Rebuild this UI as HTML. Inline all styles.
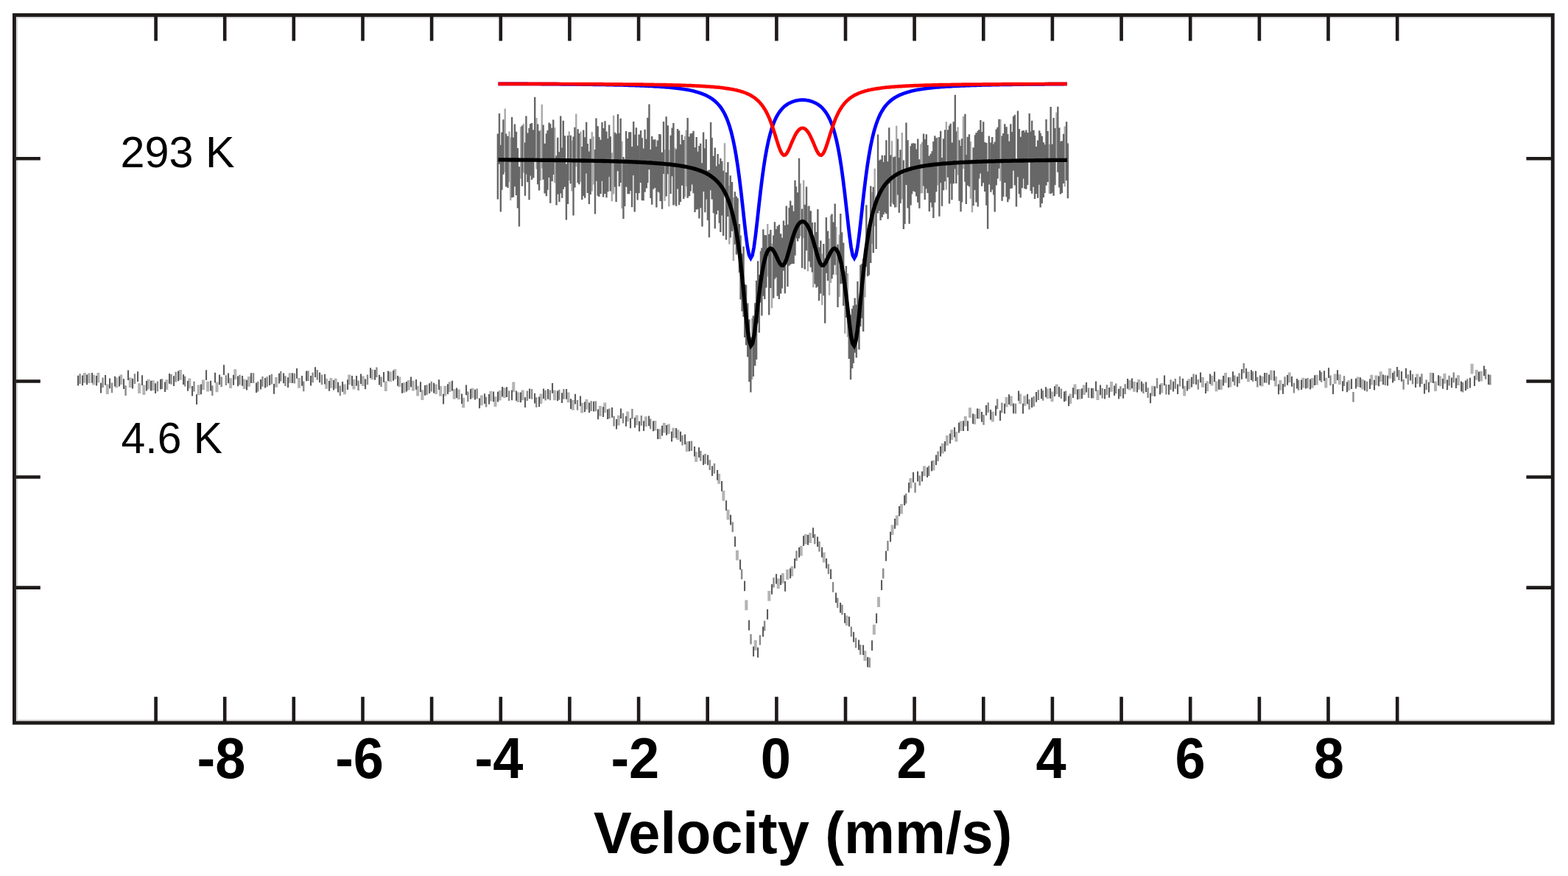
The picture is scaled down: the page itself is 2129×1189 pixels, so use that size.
<!DOCTYPE html>
<html><head><meta charset="utf-8"><title>Mossbauer spectra</title>
<style>html,body{margin:0;padding:0;background:#fff;overflow:hidden}svg{display:block}</style>
</head><body><svg width="2129" height="1189" viewBox="0 0 2129 1189"><rect x="0" y="0" width="2129" height="1189" fill="#ffffff"/><path d="M684.52 147.4h2.4V233.4h-2.4zM690.30 178.4h2.4V246.9h-2.4zM692.04 186.5h2.4V272.1h-2.4zM705.93 172.2h2.4V242.4h-2.4zM709.59 167.9h2.4V234.4h-2.4zM727.23 159.9h2.4V229.5h-2.4zM732.79 176.6h2.4V244.9h-2.4zM734.58 141.7h2.4V228.4h-2.4zM752.05 172.9h2.4V248.2h-2.4zM771.51 178.3h2.4V244.9h-2.4zM775.21 190.8h2.4V259.6h-2.4zM781.08 154.6h2.4V226.3h-2.4zM787.40 178.4h2.4V247.0h-2.4zM802.57 178.9h2.4V259.6h-2.4zM804.33 185.3h2.4V250.4h-2.4zM829.60 207.2h2.4V273.2h-2.4zM831.98 156.7h2.4V263.4h-2.4zM843.29 191.7h2.4V283.1h-2.4zM901.34 203.1h2.4V272.7h-2.4zM907.09 203.4h2.4V280.3h-2.4zM915.28 200.4h2.4V277.8h-2.4zM928.76 184.7h2.4V267.2h-2.4zM930.56 176.6h2.4V253.0h-2.4zM982.77 194.3h2.4V265.8h-2.4zM989.06 252.1h2.4V331.5h-2.4zM994.66 268.1h2.4V354.1h-2.4zM1020.03 432.1h2.4V515.1h-2.4zM1041.08 304.0h2.4V375.4h-2.4zM1046.77 330.6h2.4V418.2h-2.4zM1085.62 249.1h2.4V320.4h-2.4zM1089.91 244.5h2.4V323.2h-2.4zM1095.73 280.2h2.4V368.3h-2.4zM1103.13 325.6h2.4V389.9h-2.4zM1115.03 344.4h2.4V413.9h-2.4zM1124.87 323.8h2.4V400.8h-2.4zM1126.82 292.6h2.4V383.9h-2.4zM1134.17 307.9h2.4V373.2h-2.4zM1138.49 318.4h2.4V403.0h-2.4zM1146.08 368.3h2.4V452.8h-2.4zM1149.79 371.0h2.4V457.5h-2.4zM1173.29 337.3h2.4V403.5h-2.4zM1182.62 260.9h2.4V331.1h-2.4zM1186.50 228.7h2.4V307.0h-2.4zM1209.76 191.2h2.4V275.6h-2.4zM1216.01 170.8h2.4V281.3h-2.4zM1223.59 179.9h2.4V270.6h-2.4zM1249.06 195.5h2.4V262.6h-2.4zM1250.94 192.7h2.4V262.2h-2.4zM1271.79 186.4h2.4V251.5h-2.4zM1283.64 165.3h2.4V257.5h-2.4zM1299.36 172.4h2.4V237.6h-2.4zM1306.75 158.1h2.4V229.0h-2.4zM1316.66 192.1h2.4V269.8h-2.4zM1318.78 216.5h2.4V288.2h-2.4zM1357.15 162.0h2.4V245.7h-2.4zM1423.61 195.7h2.4V262.7h-2.4zM1433.29 152.6h2.4V218.9h-2.4zM1444.52 171.5h2.4V253.2h-2.4z" fill="#a9a9a9"/><path d="M674.68 181.6h2.4V270.6h-2.4zM676.78 154.1h2.4V222.7h-2.4zM678.65 196.7h2.4V287.6h-2.4zM680.25 179.5h2.4V257.8h-2.4zM682.24 162.3h2.4V236.8h-2.4zM685.94 181.6h2.4V253.5h-2.4zM688.37 184.8h2.4V254.9h-2.4zM693.88 158.9h2.4V268.2h-2.4zM695.81 186.6h2.4V267.6h-2.4zM697.73 168.6h2.4V253.3h-2.4zM699.79 178.7h2.4V264.9h-2.4zM701.76 201.0h2.4V282.6h-2.4zM703.73 226.3h2.4V307.5h-2.4zM707.75 170.6h2.4V252.8h-2.4zM711.75 193.5h2.4V265.7h-2.4zM713.23 157.6h2.4V236.6h-2.4zM715.13 180.6h2.4V247.3h-2.4zM717.34 173.8h2.4V271.3h-2.4zM718.94 168.0h2.4V238.6h-2.4zM720.88 167.0h2.4V244.0h-2.4zM723.11 176.2h2.4V241.6h-2.4zM725.02 131.7h2.4V214.5h-2.4zM728.99 168.5h2.4V250.2h-2.4zM730.86 177.8h2.4V258.6h-2.4zM736.38 169.6h2.4V243.8h-2.4zM738.43 194.7h2.4V262.5h-2.4zM740.67 181.3h2.4V266.2h-2.4zM742.32 177.1h2.4V257.8h-2.4zM744.36 166.6h2.4V241.1h-2.4zM746.08 168.2h2.4V275.8h-2.4zM748.51 173.7h2.4V245.9h-2.4zM750.05 162.4h2.4V237.0h-2.4zM754.36 211.2h2.4V278.5h-2.4zM756.08 186.7h2.4V263.8h-2.4zM758.22 206.2h2.4V274.0h-2.4zM760.04 157.4h2.4V262.5h-2.4zM762.04 200.5h2.4V268.8h-2.4zM763.59 163.7h2.4V256.7h-2.4zM765.80 184.2h2.4V253.7h-2.4zM767.72 222.4h2.4V298.5h-2.4zM769.88 184.0h2.4V276.9h-2.4zM773.59 183.8h2.4V249.2h-2.4zM777.34 185.4h2.4V292.5h-2.4zM779.25 172.8h2.4V254.4h-2.4zM783.42 175.3h2.4V248.0h-2.4zM785.10 181.1h2.4V250.2h-2.4zM789.11 198.9h2.4V271.0h-2.4zM791.05 176.4h2.4V265.9h-2.4zM793.01 186.2h2.4V268.8h-2.4zM794.98 165.7h2.4V235.5h-2.4zM796.60 195.0h2.4V261.9h-2.4zM798.71 205.6h2.4V277.1h-2.4zM800.53 188.6h2.4V264.0h-2.4zM806.79 202.9h2.4V290.5h-2.4zM808.28 160.6h2.4V245.7h-2.4zM810.49 171.3h2.4V265.8h-2.4zM812.21 186.1h2.4V267.0h-2.4zM814.49 189.8h2.4V262.9h-2.4zM816.31 166.1h2.4V245.8h-2.4zM817.93 174.1h2.4V267.4h-2.4zM820.30 164.3h2.4V263.0h-2.4zM822.30 178.4h2.4V268.2h-2.4zM824.21 188.0h2.4V260.2h-2.4zM825.95 169.5h2.4V240.0h-2.4zM827.64 185.3h2.4V259.6h-2.4zM833.70 179.8h2.4V253.7h-2.4zM835.42 181.5h2.4V273.9h-2.4zM837.78 155.0h2.4V232.2h-2.4zM839.57 180.8h2.4V253.1h-2.4zM841.47 160.7h2.4V247.9h-2.4zM845.25 213.0h2.4V297.1h-2.4zM847.09 215.8h2.4V280.1h-2.4zM848.91 177.9h2.4V253.7h-2.4zM851.35 188.0h2.4V263.3h-2.4zM853.05 179.3h2.4V263.2h-2.4zM855.03 179.3h2.4V259.1h-2.4zM856.84 198.9h2.4V281.3h-2.4zM859.04 165.0h2.4V238.0h-2.4zM860.54 182.8h2.4V287.6h-2.4zM862.69 173.3h2.4V262.0h-2.4zM864.42 197.7h2.4V271.4h-2.4zM866.42 182.6h2.4V262.3h-2.4zM868.87 177.1h2.4V247.9h-2.4zM870.62 187.2h2.4V271.9h-2.4zM872.42 201.4h2.4V272.2h-2.4zM874.42 175.7h2.4V260.7h-2.4zM876.57 188.7h2.4V255.4h-2.4zM878.19 159.7h2.4V248.3h-2.4zM880.28 141.4h2.4V230.3h-2.4zM882.27 203.0h2.4V269.0h-2.4zM884.02 184.9h2.4V277.7h-2.4zM886.06 189.4h2.4V256.7h-2.4zM888.14 189.2h2.4V255.0h-2.4zM890.17 199.0h2.4V281.5h-2.4zM891.65 190.5h2.4V260.3h-2.4zM894.06 181.9h2.4V261.5h-2.4zM895.45 182.6h2.4V272.9h-2.4zM897.83 206.7h2.4V283.7h-2.4zM899.81 165.1h2.4V236.1h-2.4zM903.45 158.3h2.4V266.5h-2.4zM905.63 170.2h2.4V236.3h-2.4zM909.40 183.7h2.4V263.0h-2.4zM911.44 173.4h2.4V239.2h-2.4zM913.21 167.0h2.4V278.6h-2.4zM916.92 202.5h2.4V279.7h-2.4zM918.84 175.1h2.4V256.6h-2.4zM920.88 177.3h2.4V278.2h-2.4zM922.71 196.1h2.4V274.0h-2.4zM924.75 183.0h2.4V251.7h-2.4zM927.05 189.9h2.4V270.0h-2.4zM932.46 159.9h2.4V268.8h-2.4zM934.81 185.6h2.4V266.2h-2.4zM936.45 181.3h2.4V259.4h-2.4zM938.71 180.8h2.4V250.4h-2.4zM940.37 177.8h2.4V262.3h-2.4zM942.31 200.1h2.4V287.9h-2.4zM944.48 186.0h2.4V284.5h-2.4zM946.32 205.8h2.4V283.8h-2.4zM948.17 198.1h2.4V296.6h-2.4zM950.01 194.8h2.4V282.3h-2.4zM952.23 221.3h2.4V307.4h-2.4zM953.89 179.6h2.4V260.0h-2.4zM956.13 201.2h2.4V288.3h-2.4zM957.56 189.1h2.4V270.5h-2.4zM959.72 231.6h2.4V299.0h-2.4zM961.71 230.5h2.4V322.2h-2.4zM963.91 165.9h2.4V258.3h-2.4zM965.43 186.9h2.4V270.5h-2.4zM967.70 211.7h2.4V289.2h-2.4zM969.56 200.6h2.4V310.2h-2.4zM971.53 225.4h2.4V290.9h-2.4zM973.41 208.9h2.4V285.7h-2.4zM975.56 222.8h2.4V302.8h-2.4zM977.12 215.0h2.4V315.0h-2.4zM979.10 218.7h2.4V292.5h-2.4zM980.92 231.8h2.4V320.1h-2.4zM984.80 234.0h2.4V325.5h-2.4zM987.17 220.1h2.4V294.0h-2.4zM990.56 238.2h2.4V322.6h-2.4zM992.80 246.9h2.4V313.7h-2.4zM996.67 260.2h2.4V331.8h-2.4zM998.65 266.5h2.4V345.6h-2.4zM1000.38 269.1h2.4V339.1h-2.4zM1002.71 303.9h2.4V370.1h-2.4zM1004.35 319.6h2.4V406.6h-2.4zM1006.39 344.3h2.4V422.5h-2.4zM1008.34 334.6h2.4V429.9h-2.4zM1010.00 385.9h2.4V458.1h-2.4zM1011.87 386.7h2.4V468.6h-2.4zM1014.02 411.5h2.4V484.6h-2.4zM1016.17 433.6h2.4V518.2h-2.4zM1018.14 457.6h2.4V532.6h-2.4zM1021.60 428.4h2.4V511.1h-2.4zM1024.02 411.2h2.4V496.5h-2.4zM1025.89 380.8h2.4V488.0h-2.4zM1027.88 354.3h2.4V438.8h-2.4zM1029.61 373.0h2.4V451.4h-2.4zM1031.78 340.7h2.4V410.8h-2.4zM1033.20 336.6h2.4V428.6h-2.4zM1035.13 311.3h2.4V401.8h-2.4zM1037.06 318.9h2.4V406.0h-2.4zM1039.14 319.2h2.4V390.4h-2.4zM1042.98 317.7h2.4V427.6h-2.4zM1045.15 312.1h2.4V391.1h-2.4zM1049.05 319.4h2.4V404.7h-2.4zM1050.73 301.2h2.4V378.8h-2.4zM1052.98 310.9h2.4V376.4h-2.4zM1054.52 307.0h2.4V401.7h-2.4zM1056.64 305.0h2.4V405.9h-2.4zM1058.95 317.2h2.4V398.4h-2.4zM1060.65 322.7h2.4V391.6h-2.4zM1062.76 299.4h2.4V367.4h-2.4zM1064.60 305.9h2.4V398.2h-2.4zM1066.52 279.6h2.4V352.7h-2.4zM1068.20 304.7h2.4V388.9h-2.4zM1070.37 281.9h2.4V360.7h-2.4zM1071.99 272.4h2.4V358.9h-2.4zM1074.39 278.7h2.4V358.0h-2.4zM1076.42 286.8h2.4V358.0h-2.4zM1078.30 244.8h2.4V346.8h-2.4zM1079.76 253.3h2.4V323.6h-2.4zM1081.87 261.2h2.4V327.4h-2.4zM1083.80 214.7h2.4V323.5h-2.4zM1087.86 283.4h2.4V363.7h-2.4zM1091.56 277.8h2.4V365.4h-2.4zM1093.83 253.5h2.4V340.0h-2.4zM1097.26 279.4h2.4V354.8h-2.4zM1099.59 286.2h2.4V362.8h-2.4zM1101.60 302.0h2.4V369.5h-2.4zM1105.29 301.8h2.4V385.4h-2.4zM1107.27 315.0h2.4V390.4h-2.4zM1109.19 284.0h2.4V388.9h-2.4zM1110.82 335.6h2.4V408.2h-2.4zM1113.10 326.5h2.4V398.6h-2.4zM1117.08 331.0h2.4V401.2h-2.4zM1119.01 350.2h2.4V438.8h-2.4zM1120.66 294.9h2.4V370.7h-2.4zM1122.84 313.5h2.4V381.1h-2.4zM1128.32 290.5h2.4V378.2h-2.4zM1130.18 301.5h2.4V372.7h-2.4zM1132.49 276.5h2.4V359.8h-2.4zM1136.32 331.8h2.4V417.1h-2.4zM1140.09 290.1h2.4V385.3h-2.4zM1141.96 315.3h2.4V385.3h-2.4zM1144.02 329.4h2.4V415.1h-2.4zM1147.68 360.9h2.4V431.1h-2.4zM1151.58 422.9h2.4V487.1h-2.4zM1153.84 427.3h2.4V515.2h-2.4zM1155.88 419.0h2.4V499.9h-2.4zM1157.55 414.8h2.4V493.1h-2.4zM1159.49 404.6h2.4V478.7h-2.4zM1161.53 413.5h2.4V485.4h-2.4zM1163.27 382.1h2.4V450.8h-2.4zM1165.23 406.1h2.4V474.6h-2.4zM1167.22 359.4h2.4V443.2h-2.4zM1169.24 357.7h2.4V432.0h-2.4zM1170.95 351.3h2.4V450.1h-2.4zM1175.13 278.2h2.4V361.9h-2.4zM1176.90 309.2h2.4V375.0h-2.4zM1178.71 304.4h2.4V373.4h-2.4zM1181.06 252.5h2.4V357.1h-2.4zM1184.56 253.8h2.4V343.3h-2.4zM1188.41 267.8h2.4V338.1h-2.4zM1190.84 182.5h2.4V289.6h-2.4zM1192.40 217.7h2.4V285.9h-2.4zM1194.36 216.4h2.4V299.1h-2.4zM1196.62 210.7h2.4V294.7h-2.4zM1198.43 219.9h2.4V290.9h-2.4zM1200.11 210.8h2.4V288.3h-2.4zM1202.20 190.2h2.4V290.2h-2.4zM1204.41 219.3h2.4V297.2h-2.4zM1206.04 173.2h2.4V249.3h-2.4zM1208.19 210.5h2.4V280.5h-2.4zM1212.07 213.2h2.4V277.6h-2.4zM1214.04 212.4h2.4V281.6h-2.4zM1217.86 188.6h2.4V264.6h-2.4zM1219.62 214.0h2.4V288.8h-2.4zM1221.38 203.2h2.4V275.9h-2.4zM1225.67 217.5h2.4V311.1h-2.4zM1227.27 234.7h2.4V304.0h-2.4zM1229.26 166.5h2.4V250.9h-2.4zM1231.36 190.2h2.4V282.4h-2.4zM1233.43 229.4h2.4V303.8h-2.4zM1235.45 198.3h2.4V278.5h-2.4zM1236.93 194.8h2.4V263.6h-2.4zM1238.91 194.2h2.4V259.4h-2.4zM1241.22 194.8h2.4V260.5h-2.4zM1243.06 202.5h2.4V266.5h-2.4zM1245.05 188.6h2.4V274.8h-2.4zM1247.15 216.3h2.4V282.8h-2.4zM1252.84 181.5h2.4V252.4h-2.4zM1254.55 189.1h2.4V271.0h-2.4zM1256.64 182.3h2.4V256.3h-2.4zM1258.31 196.9h2.4V261.9h-2.4zM1260.59 211.6h2.4V286.9h-2.4zM1262.53 208.7h2.4V275.1h-2.4zM1264.45 205.3h2.4V281.6h-2.4zM1266.22 192.0h2.4V296.0h-2.4zM1268.12 184.2h2.4V274.7h-2.4zM1270.09 187.3h2.4V260.3h-2.4zM1274.22 185.9h2.4V293.7h-2.4zM1275.98 177.8h2.4V248.3h-2.4zM1277.83 214.0h2.4V279.7h-2.4zM1279.86 188.3h2.4V258.3h-2.4zM1281.91 176.2h2.4V246.3h-2.4zM1285.85 176.3h2.4V240.7h-2.4zM1287.84 170.6h2.4V276.6h-2.4zM1289.46 167.7h2.4V249.3h-2.4zM1291.25 193.4h2.4V271.3h-2.4zM1293.57 165.2h2.4V249.3h-2.4zM1295.65 128.8h2.4V229.2h-2.4zM1297.08 178.3h2.4V248.9h-2.4zM1301.37 190.2h2.4V272.7h-2.4zM1303.36 198.1h2.4V287.2h-2.4zM1304.83 188.3h2.4V274.5h-2.4zM1309.22 154.8h2.4V246.7h-2.4zM1310.64 210.1h2.4V276.9h-2.4zM1312.62 185.7h2.4V251.7h-2.4zM1314.80 182.3h2.4V253.3h-2.4zM1320.38 200.2h2.4V279.2h-2.4zM1322.76 183.3h2.4V257.9h-2.4zM1324.28 180.2h2.4V274.5h-2.4zM1326.55 177.8h2.4V280.4h-2.4zM1328.07 176.2h2.4V242.5h-2.4zM1330.25 163.0h2.4V235.4h-2.4zM1331.93 179.0h2.4V252.8h-2.4zM1334.04 165.3h2.4V248.3h-2.4zM1335.98 193.0h2.4V260.0h-2.4zM1338.16 193.9h2.4V278.7h-2.4zM1339.94 232.8h2.4V310.7h-2.4zM1341.64 184.5h2.4V250.5h-2.4zM1344.15 193.4h2.4V260.7h-2.4zM1346.02 186.0h2.4V257.4h-2.4zM1347.98 195.5h2.4V264.4h-2.4zM1349.52 192.5h2.4V287.6h-2.4zM1351.54 175.6h2.4V251.5h-2.4zM1353.38 172.7h2.4V242.5h-2.4zM1355.26 161.7h2.4V228.7h-2.4zM1359.37 184.5h2.4V272.8h-2.4zM1361.08 181.1h2.4V266.9h-2.4zM1363.05 168.3h2.4V247.9h-2.4zM1365.40 172.3h2.4V267.3h-2.4zM1367.12 181.9h2.4V274.3h-2.4zM1368.88 191.8h2.4V270.6h-2.4zM1371.11 168.3h2.4V255.9h-2.4zM1372.81 178.9h2.4V255.6h-2.4zM1374.90 157.7h2.4V231.7h-2.4zM1376.70 155.7h2.4V251.4h-2.4zM1378.78 215.8h2.4V280.5h-2.4zM1380.78 150.6h2.4V240.2h-2.4zM1382.67 175.0h2.4V263.3h-2.4zM1384.52 185.8h2.4V268.2h-2.4zM1386.70 177.6h2.4V255.3h-2.4zM1388.69 177.1h2.4V242.5h-2.4zM1390.21 179.5h2.4V256.1h-2.4zM1392.13 176.6h2.4V256.8h-2.4zM1394.05 180.1h2.4V250.9h-2.4zM1396.51 154.0h2.4V218.9h-2.4zM1398.43 178.5h2.4V259.0h-2.4zM1399.94 163.8h2.4V262.8h-2.4zM1402.33 176.8h2.4V253.8h-2.4zM1403.81 184.0h2.4V270.1h-2.4zM1405.93 199.0h2.4V263.0h-2.4zM1407.86 190.5h2.4V268.8h-2.4zM1410.05 177.2h2.4V250.8h-2.4zM1411.47 180.8h2.4V281.4h-2.4zM1413.57 184.7h2.4V276.1h-2.4zM1415.68 193.2h2.4V268.0h-2.4zM1417.30 196.3h2.4V262.1h-2.4zM1419.34 162.0h2.4V251.7h-2.4zM1421.42 178.0h2.4V247.0h-2.4zM1425.48 145.0h2.4V263.1h-2.4zM1427.46 195.8h2.4V261.7h-2.4zM1429.36 159.9h2.4V265.8h-2.4zM1431.27 173.9h2.4V251.3h-2.4zM1435.13 144.7h2.4V233.8h-2.4zM1437.10 173.2h2.4V254.6h-2.4zM1438.78 192.1h2.4V263.4h-2.4zM1440.64 191.2h2.4V262.1h-2.4zM1442.93 181.7h2.4V249.0h-2.4zM1446.91 165.3h2.4V245.1h-2.4zM1448.66 194.5h2.4V269.3h-2.4z" fill="#676767"/><path d="M676.5,113.8 678.3,113.8 680.5,113.8 682.7,113.8 684.9,113.8 687.1,113.8 689.3,113.8 691.5,113.8 693.7,113.8 695.9,113.8 698.1,113.9 700.3,113.9 702.5,113.9 704.7,113.9 706.9,113.9 709.1,113.9 711.3,113.9 713.5,113.9 715.7,113.9 717.9,114.0 720.1,114.0 722.3,114.0 724.5,114.0 726.7,114.0 728.9,114.0 731.1,114.0 733.3,114.0 735.5,114.1 737.7,114.1 739.9,114.1 742.1,114.1 744.3,114.1 746.5,114.1 748.7,114.2 750.9,114.2 753.1,114.2 755.3,114.2 757.5,114.2 759.7,114.2 761.9,114.3 764.1,114.3 766.3,114.3 768.5,114.3 770.7,114.3 772.9,114.4 775.1,114.4 777.3,114.4 779.5,114.4 781.7,114.5 783.9,114.5 786.1,114.5 788.3,114.5 790.5,114.6 792.7,114.6 794.9,114.6 797.1,114.6 799.3,114.7 801.5,114.7 803.7,114.7 805.9,114.8 808.1,114.8 810.3,114.8 812.5,114.9 814.7,114.9 816.9,114.9 819.1,115.0 821.3,115.0 823.5,115.1 825.7,115.1 827.9,115.1 830.1,115.2 832.3,115.2 834.5,115.3 836.7,115.3 838.9,115.4 841.1,115.4 843.3,115.5 845.5,115.5 847.7,115.6 849.9,115.7 852.1,115.7 854.3,115.8 856.5,115.9 858.7,115.9 860.9,116.0 863.1,116.1 865.3,116.2 867.5,116.2 869.7,116.3 871.9,116.4 874.1,116.5 876.3,116.6 878.5,116.7 880.7,116.8 882.9,116.9 885.1,117.0 887.3,117.1 889.5,117.3 891.7,117.4 893.9,117.5 896.1,117.7 898.3,117.8 900.5,118.0 902.7,118.2 904.9,118.3 907.1,118.5 909.3,118.7 911.5,118.9 913.7,119.2 915.9,119.4 918.1,119.6 920.3,119.9 922.5,120.2 924.7,120.5 926.9,120.8 929.1,121.2 931.3,121.5 933.5,121.9 935.7,122.3 937.9,122.8 940.1,123.3 942.3,123.8 944.5,124.4 946.7,125.0 948.9,125.7 951.1,126.4 953.3,127.2 955.5,128.1 957.7,129.0 959.9,130.1 962.1,131.2 964.3,132.5 966.5,134.0 968.7,135.6 970.9,137.4 973.1,139.4 975.3,141.7 977.5,144.3 979.7,147.4 981.9,150.9 984.1,154.9 986.3,159.7 988.5,165.2 990.7,171.8 992.9,179.4 995.1,188.5 997.3,199.0 999.5,211.3 1001.7,225.5 1003.9,241.7 1006.1,259.8 1008.3,279.3 1010.5,299.5 1012.7,318.8 1014.9,335.2 1017.1,346.4 1019.3,350.4 1021.5,346.6 1023.7,335.6 1025.9,319.3 1028.1,300.2 1030.3,280.2 1032.5,260.9 1034.7,243.0 1036.9,227.0 1039.1,213.0 1041.3,200.9 1043.5,190.6 1045.7,181.8 1047.9,174.3 1050.1,168.0 1052.3,162.7 1054.5,158.2 1056.7,154.4 1058.9,151.2 1061.1,148.5 1063.3,146.1 1065.5,144.1 1067.7,142.4 1069.9,141.0 1072.1,139.8 1074.3,138.8 1076.5,137.9 1078.7,137.2 1080.9,136.6 1083.1,136.2 1085.3,135.9 1087.5,135.7 1089.7,135.7 1091.8,135.7 1094.0,135.9 1096.2,136.2 1098.4,136.6 1100.6,137.2 1102.8,137.9 1105.0,138.8 1107.2,139.8 1109.4,141.0 1111.6,142.4 1113.8,144.1 1116.0,146.1 1118.2,148.5 1120.4,151.2 1122.6,154.4 1124.8,158.2 1127.0,162.7 1129.2,168.0 1131.4,174.3 1133.6,181.8 1135.8,190.6 1138.0,200.9 1140.2,213.0 1142.4,227.0 1144.6,243.0 1146.8,260.9 1149.0,280.2 1151.2,300.2 1153.4,319.3 1155.6,335.6 1157.8,346.6 1160.0,350.4 1162.2,346.4 1164.4,335.2 1166.6,318.8 1168.8,299.5 1171.0,279.3 1173.2,259.8 1175.4,241.7 1177.6,225.5 1179.8,211.3 1182.0,199.0 1184.2,188.5 1186.4,179.4 1188.6,171.8 1190.8,165.2 1193.0,159.7 1195.2,154.9 1197.4,150.9 1199.6,147.4 1201.8,144.3 1204.0,141.7 1206.2,139.4 1208.4,137.4 1210.6,135.6 1212.8,134.0 1215.0,132.5 1217.2,131.2 1219.4,130.1 1221.6,129.0 1223.8,128.1 1226.0,127.2 1228.2,126.4 1230.4,125.7 1232.6,125.0 1234.8,124.4 1237.0,123.8 1239.2,123.3 1241.4,122.8 1243.6,122.3 1245.8,121.9 1248.0,121.5 1250.2,121.2 1252.4,120.8 1254.6,120.5 1256.8,120.2 1259.0,119.9 1261.2,119.6 1263.4,119.4 1265.6,119.2 1267.8,118.9 1270.0,118.7 1272.2,118.5 1274.4,118.3 1276.6,118.2 1278.8,118.0 1281.0,117.8 1283.2,117.7 1285.4,117.5 1287.6,117.4 1289.8,117.3 1292.0,117.1 1294.2,117.0 1296.4,116.9 1298.6,116.8 1300.8,116.7 1303.0,116.6 1305.2,116.5 1307.4,116.4 1309.6,116.3 1311.8,116.2 1314.0,116.2 1316.2,116.1 1318.4,116.0 1320.6,115.9 1322.8,115.9 1325.0,115.8 1327.2,115.7 1329.4,115.7 1331.6,115.6 1333.8,115.5 1336.0,115.5 1338.2,115.4 1340.4,115.4 1342.6,115.3 1344.8,115.3 1347.0,115.2 1349.2,115.2 1351.4,115.1 1353.6,115.1 1355.8,115.1 1358.0,115.0 1360.2,115.0 1362.4,114.9 1364.6,114.9 1366.8,114.9 1369.0,114.8 1371.2,114.8 1373.4,114.8 1375.6,114.7 1377.8,114.7 1380.0,114.7 1382.2,114.6 1384.4,114.6 1386.6,114.6 1388.8,114.6 1391.0,114.5 1393.2,114.5 1395.4,114.5 1397.6,114.5 1399.8,114.4 1402.0,114.4 1404.2,114.4 1406.4,114.4 1408.6,114.3 1410.8,114.3 1413.0,114.3 1415.2,114.3 1417.4,114.3 1419.6,114.2 1421.8,114.2 1424.0,114.2 1426.2,114.2 1428.4,114.2 1430.6,114.2 1432.8,114.1 1435.0,114.1 1437.2,114.1 1439.4,114.1 1441.6,114.1 1443.8,114.1 1446.0,114.0 1448.2,114.0 1449.0,114.0" stroke="#0000ff" stroke-width="4.7" fill="none" stroke-linejoin="miter" stroke-miterlimit="6"/><path d="M676.5,113.8 678.2,113.8 680.3,113.8 682.4,113.8 684.6,113.8 686.7,113.8 688.8,113.8 691.0,113.8 693.1,113.8 695.2,113.8 697.3,113.8 699.5,113.8 701.6,113.8 703.7,113.8 705.9,113.8 708.0,113.8 710.1,113.8 712.3,113.8 714.4,113.8 716.5,113.8 718.7,113.8 720.8,113.9 722.9,113.9 725.1,113.9 727.2,113.9 729.3,113.9 731.5,113.9 733.6,113.9 735.7,113.9 737.9,113.9 740.0,113.9 742.1,113.9 744.3,113.9 746.4,113.9 748.5,113.9 750.6,113.9 752.8,113.9 754.9,113.9 757.0,114.0 759.2,114.0 761.3,114.0 763.4,114.0 765.6,114.0 767.7,114.0 769.8,114.0 772.0,114.0 774.1,114.0 776.2,114.0 778.4,114.0 780.5,114.0 782.6,114.1 784.8,114.1 786.9,114.1 789.0,114.1 791.2,114.1 793.3,114.1 795.4,114.1 797.6,114.1 799.7,114.1 801.8,114.1 804.0,114.2 806.1,114.2 808.2,114.2 810.3,114.2 812.5,114.2 814.6,114.2 816.7,114.2 818.9,114.2 821.0,114.3 823.1,114.3 825.3,114.3 827.4,114.3 829.5,114.3 831.7,114.3 833.8,114.3 835.9,114.4 838.1,114.4 840.2,114.4 842.3,114.4 844.5,114.4 846.6,114.5 848.7,114.5 850.9,114.5 853.0,114.5 855.1,114.5 857.3,114.6 859.4,114.6 861.5,114.6 863.6,114.6 865.8,114.6 867.9,114.7 870.0,114.7 872.2,114.7 874.3,114.8 876.4,114.8 878.6,114.8 880.7,114.8 882.8,114.9 885.0,114.9 887.1,114.9 889.2,115.0 891.4,115.0 893.5,115.0 895.6,115.1 897.8,115.1 899.9,115.2 902.0,115.2 904.2,115.2 906.3,115.3 908.4,115.3 910.6,115.4 912.7,115.4 914.8,115.5 917.0,115.5 919.1,115.6 921.2,115.7 923.3,115.7 925.5,115.8 927.6,115.8 929.7,115.9 931.9,116.0 934.0,116.1 936.1,116.1 938.3,116.2 940.4,116.3 942.5,116.4 944.7,116.5 946.8,116.6 948.9,116.7 951.1,116.8 953.2,116.9 955.3,117.1 957.5,117.2 959.6,117.3 961.7,117.5 963.9,117.6 966.0,117.8 968.1,117.9 970.3,118.1 972.4,118.3 974.5,118.5 976.6,118.7 978.8,119.0 980.9,119.2 983.0,119.5 985.2,119.8 987.3,120.1 989.4,120.4 991.6,120.7 993.7,121.1 995.8,121.5 998.0,122.0 1000.1,122.4 1002.2,123.0 1004.4,123.5 1006.5,124.2 1008.6,124.8 1010.8,125.6 1012.9,126.4 1015.0,127.3 1017.2,128.3 1019.3,129.4 1021.4,130.7 1023.6,132.1 1025.7,133.6 1027.8,135.4 1030.0,137.4 1032.1,139.7 1034.2,142.2 1036.3,145.1 1038.5,148.5 1040.6,152.2 1042.7,156.5 1044.9,161.4 1047.0,166.9 1049.1,172.9 1051.3,179.4 1053.4,186.3 1055.5,193.1 1057.7,199.6 1059.8,205.0 1061.9,208.8 1064.1,210.7 1066.2,210.3 1068.3,208.0 1070.5,204.2 1072.6,199.4 1074.7,194.2 1076.9,189.2 1079.0,184.7 1081.1,180.8 1083.3,177.8 1085.4,175.6 1087.5,174.3 1089.7,173.8 1091.8,174.3 1093.9,175.6 1096.0,177.8 1098.2,180.8 1100.3,184.7 1102.4,189.2 1104.6,194.2 1106.7,199.4 1108.8,204.2 1111.0,208.0 1113.1,210.3 1115.2,210.7 1117.4,208.8 1119.5,205.0 1121.6,199.6 1123.8,193.1 1125.9,186.3 1128.0,179.4 1130.2,172.9 1132.3,166.9 1134.4,161.4 1136.6,156.5 1138.7,152.2 1140.8,148.5 1143.0,145.1 1145.1,142.2 1147.2,139.7 1149.3,137.4 1151.5,135.4 1153.6,133.6 1155.7,132.1 1157.9,130.7 1160.0,129.4 1162.1,128.3 1164.3,127.3 1166.4,126.4 1168.5,125.6 1170.7,124.8 1172.8,124.2 1174.9,123.5 1177.1,123.0 1179.2,122.4 1181.3,122.0 1183.5,121.5 1185.6,121.1 1187.7,120.7 1189.9,120.4 1192.0,120.1 1194.1,119.8 1196.3,119.5 1198.4,119.2 1200.5,119.0 1202.7,118.7 1204.8,118.5 1206.9,118.3 1209.0,118.1 1211.2,117.9 1213.3,117.8 1215.4,117.6 1217.6,117.5 1219.7,117.3 1221.8,117.2 1224.0,117.1 1226.1,116.9 1228.2,116.8 1230.4,116.7 1232.5,116.6 1234.6,116.5 1236.8,116.4 1238.9,116.3 1241.0,116.2 1243.2,116.1 1245.3,116.1 1247.4,116.0 1249.6,115.9 1251.7,115.8 1253.8,115.8 1256.0,115.7 1258.1,115.7 1260.2,115.6 1262.3,115.5 1264.5,115.5 1266.6,115.4 1268.7,115.4 1270.9,115.3 1273.0,115.3 1275.1,115.2 1277.3,115.2 1279.4,115.2 1281.5,115.1 1283.7,115.1 1285.8,115.0 1287.9,115.0 1290.1,115.0 1292.2,114.9 1294.3,114.9 1296.5,114.9 1298.6,114.8 1300.7,114.8 1302.9,114.8 1305.0,114.8 1307.1,114.7 1309.3,114.7 1311.4,114.7 1313.5,114.6 1315.7,114.6 1317.8,114.6 1319.9,114.6 1322.0,114.6 1324.2,114.5 1326.3,114.5 1328.4,114.5 1330.6,114.5 1332.7,114.5 1334.8,114.4 1337.0,114.4 1339.1,114.4 1341.2,114.4 1343.4,114.4 1345.5,114.3 1347.6,114.3 1349.8,114.3 1351.9,114.3 1354.0,114.3 1356.2,114.3 1358.3,114.3 1360.4,114.2 1362.6,114.2 1364.7,114.2 1366.8,114.2 1369.0,114.2 1371.1,114.2 1373.2,114.2 1375.3,114.2 1377.5,114.1 1379.6,114.1 1381.7,114.1 1383.9,114.1 1386.0,114.1 1388.1,114.1 1390.3,114.1 1392.4,114.1 1394.5,114.1 1396.7,114.1 1398.8,114.0 1400.9,114.0 1403.1,114.0 1405.2,114.0 1407.3,114.0 1409.5,114.0 1411.6,114.0 1413.7,114.0 1415.9,114.0 1418.0,114.0 1420.1,114.0 1422.3,114.0 1424.4,113.9 1426.5,113.9 1428.7,113.9 1430.8,113.9 1432.9,113.9 1435.0,113.9 1437.2,113.9 1439.3,113.9 1441.4,113.9 1443.6,113.9 1445.7,113.9 1447.8,113.9 1449.0,113.9" stroke="#ff0000" stroke-width="4.7" fill="none" stroke-linejoin="miter" stroke-miterlimit="6"/><path d="M676.5,216.9 678.0,216.9 680.2,216.9 682.4,216.9 684.6,216.9 686.8,216.9 688.9,216.9 691.1,217.0 693.3,217.0 695.5,217.0 697.7,217.0 699.9,217.0 702.1,217.0 704.3,217.0 706.5,217.1 708.6,217.1 710.8,217.1 713.0,217.1 715.2,217.1 717.4,217.1 719.6,217.2 721.8,217.2 724.0,217.2 726.2,217.2 728.4,217.2 730.5,217.3 732.7,217.3 734.9,217.3 737.1,217.3 739.3,217.3 741.5,217.4 743.7,217.4 745.9,217.4 748.1,217.4 750.3,217.4 752.4,217.5 754.6,217.5 756.8,217.5 759.0,217.5 761.2,217.6 763.4,217.6 765.6,217.6 767.8,217.6 770.0,217.7 772.1,217.7 774.3,217.7 776.5,217.8 778.7,217.8 780.9,217.8 783.1,217.9 785.3,217.9 787.5,217.9 789.7,218.0 791.9,218.0 794.0,218.0 796.2,218.1 798.4,218.1 800.6,218.1 802.8,218.2 805.0,218.2 807.2,218.3 809.4,218.3 811.6,218.4 813.8,218.4 815.9,218.4 818.1,218.5 820.3,218.5 822.5,218.6 824.7,218.7 826.9,218.7 829.1,218.8 831.3,218.8 833.5,218.9 835.6,218.9 837.8,219.0 840.0,219.1 842.2,219.1 844.4,219.2 846.6,219.3 848.8,219.4 851.0,219.4 853.2,219.5 855.4,219.6 857.5,219.7 859.7,219.8 861.9,219.9 864.1,220.0 866.3,220.1 868.5,220.2 870.7,220.3 872.9,220.4 875.1,220.5 877.3,220.6 879.4,220.8 881.6,220.9 883.8,221.0 886.0,221.2 888.2,221.3 890.4,221.5 892.6,221.6 894.8,221.8 897.0,222.0 899.1,222.2 901.3,222.4 903.5,222.6 905.7,222.8 907.9,223.0 910.1,223.2 912.3,223.5 914.5,223.8 916.7,224.0 918.9,224.3 921.0,224.6 923.2,225.0 925.4,225.3 927.6,225.7 929.8,226.1 932.0,226.5 934.2,227.0 936.4,227.5 938.6,228.0 940.8,228.5 942.9,229.1 945.1,229.8 947.3,230.5 949.5,231.2 951.7,232.0 953.9,232.9 956.1,233.9 958.3,234.9 960.5,236.1 962.6,237.3 964.8,238.7 967.0,240.3 969.2,242.0 971.4,243.9 973.6,246.0 975.8,248.4 978.0,251.1 980.2,254.2 982.4,257.7 984.5,261.7 986.7,266.3 988.9,271.6 991.1,277.8 993.3,285.1 995.5,293.6 997.7,303.6 999.9,315.3 1002.1,329.2 1004.3,345.3 1006.4,363.9 1008.6,384.7 1010.8,407.0 1013.0,429.2 1015.2,448.9 1017.4,463.1 1019.6,469.1 1021.8,466.0 1024.0,454.8 1026.1,438.3 1028.3,419.3 1030.5,400.5 1032.7,383.4 1034.9,369.0 1037.1,357.3 1039.3,348.5 1041.5,342.3 1043.7,338.7 1045.9,337.2 1048.0,337.9 1050.2,340.3 1052.4,344.1 1054.6,348.8 1056.8,353.7 1059.0,357.8 1061.2,360.2 1063.4,360.2 1065.6,357.4 1067.8,352.2 1069.9,345.2 1072.1,337.4 1074.3,329.4 1076.5,322.0 1078.7,315.5 1080.9,310.1 1083.1,306.0 1085.3,303.0 1087.5,301.2 1089.7,300.6 1091.8,301.2 1094.0,303.0 1096.2,306.0 1098.4,310.1 1100.6,315.5 1102.8,322.0 1105.0,329.4 1107.2,337.4 1109.4,345.2 1111.5,352.2 1113.7,357.4 1115.9,360.2 1118.1,360.2 1120.3,357.8 1122.5,353.7 1124.7,348.8 1126.9,344.1 1129.1,340.3 1131.3,337.9 1133.4,337.2 1135.6,338.7 1137.8,342.3 1140.0,348.5 1142.2,357.3 1144.4,369.0 1146.6,383.4 1148.8,400.5 1151.0,419.3 1153.2,438.3 1155.3,454.8 1157.5,466.0 1159.7,469.1 1161.9,463.1 1164.1,448.9 1166.3,429.2 1168.5,407.0 1170.7,384.7 1172.9,363.9 1175.0,345.3 1177.2,329.2 1179.4,315.3 1181.6,303.6 1183.8,293.6 1186.0,285.1 1188.2,277.8 1190.4,271.6 1192.6,266.3 1194.8,261.7 1196.9,257.7 1199.1,254.2 1201.3,251.1 1203.5,248.4 1205.7,246.0 1207.9,243.9 1210.1,242.0 1212.3,240.3 1214.5,238.7 1216.7,237.3 1218.8,236.1 1221.0,234.9 1223.2,233.9 1225.4,232.9 1227.6,232.0 1229.8,231.2 1232.0,230.5 1234.2,229.8 1236.4,229.1 1238.5,228.5 1240.7,228.0 1242.9,227.5 1245.1,227.0 1247.3,226.5 1249.5,226.1 1251.7,225.7 1253.9,225.3 1256.1,225.0 1258.3,224.6 1260.4,224.3 1262.6,224.0 1264.8,223.8 1267.0,223.5 1269.2,223.2 1271.4,223.0 1273.6,222.8 1275.8,222.6 1278.0,222.4 1280.2,222.2 1282.3,222.0 1284.5,221.8 1286.7,221.6 1288.9,221.5 1291.1,221.3 1293.3,221.2 1295.5,221.0 1297.7,220.9 1299.9,220.8 1302.0,220.6 1304.2,220.5 1306.4,220.4 1308.6,220.3 1310.8,220.2 1313.0,220.1 1315.2,220.0 1317.4,219.9 1319.6,219.8 1321.8,219.7 1323.9,219.6 1326.1,219.5 1328.3,219.4 1330.5,219.4 1332.7,219.3 1334.9,219.2 1337.1,219.1 1339.3,219.1 1341.5,219.0 1343.7,218.9 1345.8,218.9 1348.0,218.8 1350.2,218.8 1352.4,218.7 1354.6,218.7 1356.8,218.6 1359.0,218.5 1361.2,218.5 1363.4,218.4 1365.5,218.4 1367.7,218.4 1369.9,218.3 1372.1,218.3 1374.3,218.2 1376.5,218.2 1378.7,218.1 1380.9,218.1 1383.1,218.1 1385.3,218.0 1387.4,218.0 1389.6,218.0 1391.8,217.9 1394.0,217.9 1396.2,217.9 1398.4,217.8 1400.6,217.8 1402.8,217.8 1405.0,217.7 1407.2,217.7 1409.3,217.7 1411.5,217.6 1413.7,217.6 1415.9,217.6 1418.1,217.6 1420.3,217.5 1422.5,217.5 1424.7,217.5 1426.9,217.5 1429.0,217.4 1431.2,217.4 1433.4,217.4 1435.6,217.4 1437.8,217.4 1440.0,217.3 1442.2,217.3 1444.4,217.3 1446.6,217.3 1449.0,217.2" stroke="#000000" stroke-width="5.3" fill="none" stroke-linejoin="miter" stroke-miterlimit="6"/><path d="M112.80 506.0h4.0v13.7h-4.0zM118.99 506.4h4.0v13.7h-4.0zM125.19 508.8h4.0v13.7h-4.0zM131.39 505.9h4.0v13.7h-4.0zM143.78 521.4h4.0v13.7h-4.0zM156.17 512.5h4.0v13.7h-4.0zM162.37 508.4h4.0v13.7h-4.0zM174.76 512.4h4.0v13.7h-4.0zM187.16 520.2h4.0v13.7h-4.0zM193.35 522.4h4.0v13.7h-4.0zM199.55 514.7h4.0v13.7h-4.0zM205.75 516.3h4.0v13.7h-4.0zM224.34 515.2h4.0v13.7h-4.0zM242.93 502.1h4.0v13.7h-4.0zM255.32 513.5h4.0v13.7h-4.0zM267.71 522.6h4.0v13.7h-4.0zM273.91 515.5h4.0v13.7h-4.0zM280.11 517.7h4.0v13.7h-4.0zM292.50 518.6h4.0v13.7h-4.0zM311.09 513.3h4.0v13.7h-4.0zM317.29 501.2h4.0v13.7h-4.0zM329.68 514.4h4.0v13.7h-4.0zM335.88 511.1h4.0v13.7h-4.0zM373.06 512.0h4.0v13.7h-4.0zM391.65 506.3h4.0v13.7h-4.0zM404.04 513.1h4.0v13.7h-4.0zM441.22 514.1h4.0v13.7h-4.0zM447.42 513.0h4.0v13.7h-4.0zM453.62 513.7h4.0v13.7h-4.0zM466.01 521.6h4.0v13.7h-4.0zM472.21 508.4h4.0v13.7h-4.0zM478.40 514.9h4.0v13.7h-4.0zM490.80 510.4h4.0v13.7h-4.0zM503.19 501.6h4.0v13.7h-4.0zM521.78 517.4h4.0v13.7h-4.0zM527.98 504.5h4.0v13.7h-4.0zM534.18 501.1h4.0v13.7h-4.0zM540.37 511.6h4.0v13.7h-4.0zM546.57 519.3h4.0v13.7h-4.0zM552.77 515.9h4.0v13.7h-4.0zM558.96 516.8h4.0v13.7h-4.0zM565.16 523.8h4.0v13.7h-4.0zM571.36 529.2h4.0v13.7h-4.0zM589.95 521.4h4.0v13.7h-4.0zM596.14 524.0h4.0v13.7h-4.0zM602.34 523.7h4.0v13.7h-4.0zM608.54 518.2h4.0v13.7h-4.0zM614.73 528.0h4.0v13.7h-4.0zM620.93 528.6h4.0v13.7h-4.0zM627.13 539.7h4.0v13.7h-4.0zM639.52 526.8h4.0v13.7h-4.0zM651.91 536.6h4.0v13.7h-4.0zM664.31 530.7h4.0v13.7h-4.0zM670.50 538.2h4.0v13.7h-4.0zM676.70 529.9h4.0v13.7h-4.0zM682.90 526.3h4.0v13.7h-4.0zM695.29 518.5h4.0v13.7h-4.0zM701.49 532.4h4.0v13.7h-4.0zM707.68 529.5h4.0v13.7h-4.0zM732.47 534.4h4.0v13.7h-4.0zM751.06 529.5h4.0v13.7h-4.0zM769.65 532.6h4.0v13.7h-4.0zM775.85 543.0h4.0v13.7h-4.0zM788.24 546.7h4.0v13.7h-4.0zM794.44 542.1h4.0v13.7h-4.0zM813.03 551.0h4.0v13.7h-4.0zM819.23 546.6h4.0v13.7h-4.0zM837.82 563.8h4.0v13.7h-4.0zM850.21 558.6h4.0v13.7h-4.0zM862.60 563.4h4.0v13.7h-4.0zM875.00 565.3h4.0v13.7h-4.0zM887.39 570.9h4.0v13.7h-4.0zM893.59 582.3h4.0v13.7h-4.0zM899.78 573.9h4.0v13.7h-4.0zM905.98 575.4h4.0v13.7h-4.0zM912.18 580.7h4.0v13.7h-4.0zM918.38 583.3h4.0v13.7h-4.0zM930.77 599.2h4.0v13.7h-4.0zM943.16 613.2h4.0v13.7h-4.0zM974.15 643.0h4.0v13.7h-4.0zM980.34 666.0h4.0v13.7h-4.0zM986.54 691.8h4.0v13.7h-4.0zM998.93 746.9h4.0v13.7h-4.0zM1011.33 814.5h4.0v13.7h-4.0zM1023.72 869.1h4.0v13.7h-4.0zM1042.31 802.0h4.0v13.7h-4.0zM1054.70 785.3h4.0v13.7h-4.0zM1060.90 778.0h4.0v13.7h-4.0zM1067.10 773.1h4.0v13.7h-4.0zM1073.29 768.5h4.0v13.7h-4.0zM1085.69 740.9h4.0v13.7h-4.0zM1091.88 725.0h4.0v13.7h-4.0zM1098.08 723.3h4.0v13.7h-4.0zM1116.67 749.8h4.0v13.7h-4.0zM1147.66 835.4h4.0v13.7h-4.0zM1172.44 883.2h4.0v13.7h-4.0zM1184.84 847.7h4.0v13.7h-4.0zM1191.03 810.2h4.0v13.7h-4.0zM1209.62 712.4h4.0v13.7h-4.0zM1215.82 699.6h4.0v13.7h-4.0zM1222.02 683.9h4.0v13.7h-4.0zM1234.41 649.1h4.0v13.7h-4.0zM1253.00 632.6h4.0v13.7h-4.0zM1265.39 624.8h4.0v13.7h-4.0zM1277.79 601.7h4.0v13.7h-4.0zM1283.98 591.1h4.0v13.7h-4.0zM1290.18 583.2h4.0v13.7h-4.0zM1296.38 585.9h4.0v13.7h-4.0zM1302.57 571.4h4.0v13.7h-4.0zM1308.77 564.9h4.0v13.7h-4.0zM1314.97 553.3h4.0v13.7h-4.0zM1321.17 562.2h4.0v13.7h-4.0zM1327.36 554.8h4.0v13.7h-4.0zM1345.95 558.8h4.0v13.7h-4.0zM1364.54 538.9h4.0v13.7h-4.0zM1370.74 537.5h4.0v13.7h-4.0zM1383.13 534.5h4.0v13.7h-4.0zM1389.33 537.2h4.0v13.7h-4.0zM1420.31 527.6h4.0v13.7h-4.0zM1426.51 531.6h4.0v13.7h-4.0zM1432.71 521.6h4.0v13.7h-4.0zM1451.30 534.4h4.0v13.7h-4.0zM1457.49 521.6h4.0v13.7h-4.0zM1463.69 528.1h4.0v13.7h-4.0zM1469.89 522.4h4.0v13.7h-4.0zM1488.48 529.2h4.0v13.7h-4.0zM1507.07 518.1h4.0v13.7h-4.0zM1531.86 515.9h4.0v13.7h-4.0zM1538.05 518.1h4.0v13.7h-4.0zM1544.25 515.0h4.0v13.7h-4.0zM1562.84 523.7h4.0v13.7h-4.0zM1575.23 519.9h4.0v13.7h-4.0zM1606.22 523.8h4.0v13.7h-4.0zM1612.41 514.3h4.0v13.7h-4.0zM1631.00 512.1h4.0v13.7h-4.0zM1637.20 517.3h4.0v13.7h-4.0zM1643.40 509.7h4.0v13.7h-4.0zM1649.59 517.6h4.0v13.7h-4.0zM1655.79 515.2h4.0v13.7h-4.0zM1661.99 506.1h4.0v13.7h-4.0zM1668.18 511.9h4.0v13.7h-4.0zM1692.97 504.5h4.0v13.7h-4.0zM1711.56 510.7h4.0v13.7h-4.0zM1723.96 502.4h4.0v13.7h-4.0zM1730.15 510.9h4.0v13.7h-4.0zM1736.35 516.1h4.0v13.7h-4.0zM1748.74 505.5h4.0v13.7h-4.0zM1767.33 512.7h4.0v13.7h-4.0zM1779.73 513.1h4.0v13.7h-4.0zM1785.92 508.8h4.0v13.7h-4.0zM1798.32 512.8h4.0v13.7h-4.0zM1810.71 507.4h4.0v13.7h-4.0zM1816.91 508.2h4.0v13.7h-4.0zM1829.30 516.3h4.0v13.7h-4.0zM1841.69 511.4h4.0v13.7h-4.0zM1847.89 514.8h4.0v13.7h-4.0zM1860.28 508.7h4.0v13.7h-4.0zM1866.48 509.4h4.0v13.7h-4.0zM1872.68 504.3h4.0v13.7h-4.0zM1885.07 500.0h4.0v13.7h-4.0zM1922.25 507.4h4.0v13.7h-4.0zM1940.84 505.7h4.0v13.7h-4.0zM1947.04 517.4h4.0v13.7h-4.0zM1953.24 510.6h4.0v13.7h-4.0zM1959.43 507.1h4.0v13.7h-4.0zM1978.02 509.2h4.0v13.7h-4.0zM1996.61 493.7h4.0v13.7h-4.0zM2002.81 502.0h4.0v13.7h-4.0zM2009.01 503.7h4.0v13.7h-4.0z" fill="#b3b3b3"/><path d="M107.40 507.3h2.4v13.7h-2.4zM138.38 512.4h2.4v13.7h-2.4zM150.78 519.6h2.4v13.7h-2.4zM169.37 523.2h2.4v13.7h-2.4zM181.76 507.3h2.4v13.7h-2.4zM212.74 517.5h2.4v13.7h-2.4zM218.94 514.2h2.4v13.7h-2.4zM231.33 508.0h2.4v13.7h-2.4zM237.53 504.8h2.4v13.7h-2.4zM249.92 510.7h2.4v13.7h-2.4zM262.32 517.8h2.4v13.7h-2.4zM287.10 523.2h2.4v13.7h-2.4zM299.50 511.6h2.4v13.7h-2.4zM305.69 509.2h2.4v13.7h-2.4zM324.29 508.8h2.4v13.7h-2.4zM342.88 506.3h2.4v13.7h-2.4zM349.07 517.7h2.4v13.7h-2.4zM355.27 511.1h2.4v13.7h-2.4zM361.47 511.3h2.4v13.7h-2.4zM367.66 507.7h2.4v13.7h-2.4zM380.06 503.8h2.4v13.7h-2.4zM386.25 510.3h2.4v13.7h-2.4zM398.65 506.7h2.4v13.7h-2.4zM411.04 517.6h2.4v13.7h-2.4zM417.24 503.2h2.4v13.7h-2.4zM423.43 505.5h2.4v13.7h-2.4zM429.63 502.0h2.4v13.7h-2.4zM435.83 508.5h2.4v13.7h-2.4zM460.61 523.6h2.4v13.7h-2.4zM485.40 516.4h2.4v13.7h-2.4zM497.79 508.6h2.4v13.7h-2.4zM510.19 498.6h2.4v13.7h-2.4zM516.39 511.4h2.4v13.7h-2.4zM578.35 522.3h2.4v13.7h-2.4zM584.55 517.7h2.4v13.7h-2.4zM634.12 531.6h2.4v13.7h-2.4zM646.52 527.6h2.4v13.7h-2.4zM658.91 538.8h2.4v13.7h-2.4zM689.89 530.2h2.4v13.7h-2.4zM714.68 530.4h2.4v13.7h-2.4zM720.88 528.1h2.4v13.7h-2.4zM727.08 539.2h2.4v13.7h-2.4zM739.47 529.7h2.4v13.7h-2.4zM745.67 529.5h2.4v13.7h-2.4zM758.06 529.0h2.4v13.7h-2.4zM764.26 528.0h2.4v13.7h-2.4zM782.85 543.0h2.4v13.7h-2.4zM801.44 544.3h2.4v13.7h-2.4zM807.63 544.6h2.4v13.7h-2.4zM826.22 554.5h2.4v13.7h-2.4zM832.42 564.7h2.4v13.7h-2.4zM844.81 560.8h2.4v13.7h-2.4zM857.21 554.9h2.4v13.7h-2.4zM869.60 564.0h2.4v13.7h-2.4zM881.99 568.6h2.4v13.7h-2.4zM925.37 590.7h2.4v13.7h-2.4zM937.77 598.4h2.4v13.7h-2.4zM950.16 612.0h2.4v13.7h-2.4zM956.36 616.0h2.4v13.7h-2.4zM962.55 624.2h2.4v13.7h-2.4zM968.75 629.0h2.4v13.7h-2.4zM993.54 708.6h2.4v13.7h-2.4zM1005.93 772.6h2.4v13.7h-2.4zM1018.32 860.8h2.4v13.7h-2.4zM1030.72 861.9h2.4v13.7h-2.4zM1036.91 842.5h2.4v13.7h-2.4zM1049.31 783.9h2.4v13.7h-2.4zM1080.29 747.6h2.4v13.7h-2.4zM1105.08 724.9h2.4v13.7h-2.4zM1111.27 735.0h2.4v13.7h-2.4zM1123.67 765.6h2.4v13.7h-2.4zM1129.87 790.0h2.4v13.7h-2.4zM1136.06 811.4h2.4v13.7h-2.4zM1142.26 820.7h2.4v13.7h-2.4zM1154.65 850.5h2.4v13.7h-2.4zM1160.85 865.8h2.4v13.7h-2.4zM1167.05 875.1h2.4v13.7h-2.4zM1179.44 892.4h2.4v13.7h-2.4zM1198.03 771.5h2.4v13.7h-2.4zM1204.23 734.1h2.4v13.7h-2.4zM1229.01 669.7h2.4v13.7h-2.4zM1241.41 655.0h2.4v13.7h-2.4zM1247.60 645.4h2.4v13.7h-2.4zM1260.00 632.3h2.4v13.7h-2.4zM1272.39 612.4h2.4v13.7h-2.4zM1334.36 563.0h2.4v13.7h-2.4zM1340.56 546.2h2.4v13.7h-2.4zM1352.95 541.6h2.4v13.7h-2.4zM1359.15 546.5h2.4v13.7h-2.4zM1377.74 547.8h2.4v13.7h-2.4zM1396.33 542.1h2.4v13.7h-2.4zM1402.52 538.1h2.4v13.7h-2.4zM1408.72 529.2h2.4v13.7h-2.4zM1414.92 530.1h2.4v13.7h-2.4zM1439.70 527.4h2.4v13.7h-2.4zM1445.90 530.5h2.4v13.7h-2.4zM1476.88 526.4h2.4v13.7h-2.4zM1483.08 526.9h2.4v13.7h-2.4zM1495.47 527.0h2.4v13.7h-2.4zM1501.67 522.3h2.4v13.7h-2.4zM1514.06 520.6h2.4v13.7h-2.4zM1520.26 524.2h2.4v13.7h-2.4zM1526.46 521.3h2.4v13.7h-2.4zM1551.25 520.4h2.4v13.7h-2.4zM1557.44 526.2h2.4v13.7h-2.4zM1569.84 513.2h2.4v13.7h-2.4zM1582.23 521.8h2.4v13.7h-2.4zM1588.43 515.3h2.4v13.7h-2.4zM1594.62 514.1h2.4v13.7h-2.4zM1600.82 510.7h2.4v13.7h-2.4zM1619.41 507.6h2.4v13.7h-2.4zM1625.61 515.1h2.4v13.7h-2.4zM1675.18 509.6h2.4v13.7h-2.4zM1681.38 506.5h2.4v13.7h-2.4zM1687.57 492.9h2.4v13.7h-2.4zM1699.97 504.2h2.4v13.7h-2.4zM1706.16 511.7h2.4v13.7h-2.4zM1718.56 506.0h2.4v13.7h-2.4zM1743.35 511.2h2.4v13.7h-2.4zM1755.74 519.7h2.4v13.7h-2.4zM1761.94 516.1h2.4v13.7h-2.4zM1774.33 513.1h2.4v13.7h-2.4zM1792.92 505.0h2.4v13.7h-2.4zM1805.31 509.5h2.4v13.7h-2.4zM1823.90 510.3h2.4v13.7h-2.4zM1836.30 532.0h2.4v13.7h-2.4zM1854.89 517.7h2.4v13.7h-2.4zM1879.67 509.2h2.4v13.7h-2.4zM1892.07 503.6h2.4v13.7h-2.4zM1898.26 502.3h2.4v13.7h-2.4zM1904.46 515.1h2.4v13.7h-2.4zM1910.66 508.3h2.4v13.7h-2.4zM1916.85 507.8h2.4v13.7h-2.4zM1929.25 507.3h2.4v13.7h-2.4zM1935.45 515.5h2.4v13.7h-2.4zM1966.43 509.7h2.4v13.7h-2.4zM1972.63 505.5h2.4v13.7h-2.4zM1985.02 518.9h2.4v13.7h-2.4zM1991.22 514.3h2.4v13.7h-2.4zM2016.00 501.0h2.4v13.7h-2.4zM2022.20 508.8h2.4v13.7h-2.4z" fill="#8a8a8a"/><path d="M105.00 509.7h2.1v13.7h-2.1zM111.00 509.5h2.1v13.7h-2.1zM117.00 508.6h2.1v13.7h-2.1zM124.00 506.1h2.1v13.7h-2.1zM130.00 509.9h2.1v13.7h-2.1zM136.00 519.7h2.1v13.7h-2.1zM142.00 509.0h2.1v13.7h-2.1zM148.00 513.5h2.1v13.7h-2.1zM155.00 510.7h2.1v13.7h-2.1zM161.00 510.8h2.1v13.7h-2.1zM167.00 514.3h2.1v13.7h-2.1zM173.00 502.4h2.1v13.7h-2.1zM179.00 513.8h2.1v13.7h-2.1zM186.00 504.2h2.1v13.7h-2.1zM192.00 509.3h2.1v13.7h-2.1zM198.00 516.9h2.1v13.7h-2.1zM204.00 516.8h2.1v13.7h-2.1zM210.00 520.3h2.1v13.7h-2.1zM217.00 514.7h2.1v13.7h-2.1zM223.00 518.4h2.1v13.7h-2.1zM229.00 507.1h2.1v13.7h-2.1zM235.00 510.2h2.1v13.7h-2.1zM241.00 503.6h2.1v13.7h-2.1zM248.00 508.3h2.1v13.7h-2.1zM254.00 517.0h2.1v13.7h-2.1zM260.00 523.9h2.1v13.7h-2.1zM266.00 535.3h2.1v13.7h-2.1zM272.00 521.6h2.1v13.7h-2.1zM279.00 502.2h2.1v13.7h-2.1zM285.00 516.8h2.1v13.7h-2.1zM291.00 505.8h2.1v13.7h-2.1zM297.00 508.6h2.1v13.7h-2.1zM303.00 495.3h2.1v13.7h-2.1zM309.00 506.5h2.1v13.7h-2.1zM316.00 509.1h2.1v13.7h-2.1zM322.00 510.5h2.1v13.7h-2.1zM328.00 510.0h2.1v13.7h-2.1zM334.00 515.8h2.1v13.7h-2.1zM340.00 506.2h2.1v13.7h-2.1zM347.00 519.4h2.1v13.7h-2.1zM353.00 514.9h2.1v13.7h-2.1zM359.00 512.9h2.1v13.7h-2.1zM365.00 509.3h2.1v13.7h-2.1zM371.00 521.0h2.1v13.7h-2.1zM378.00 506.8h2.1v13.7h-2.1zM384.00 506.5h2.1v13.7h-2.1zM390.00 512.2h2.1v13.7h-2.1zM396.00 506.2h2.1v13.7h-2.1zM402.00 500.0h2.1v13.7h-2.1zM409.00 510.0h2.1v13.7h-2.1zM415.00 503.5h2.1v13.7h-2.1zM421.00 509.9h2.1v13.7h-2.1zM427.00 498.2h2.1v13.7h-2.1zM433.00 505.6h2.1v13.7h-2.1zM440.00 507.8h2.1v13.7h-2.1zM446.00 517.1h2.1v13.7h-2.1zM452.00 515.9h2.1v13.7h-2.1zM458.00 518.7h2.1v13.7h-2.1zM464.00 518.1h2.1v13.7h-2.1zM471.00 515.2h2.1v13.7h-2.1zM477.00 510.1h2.1v13.7h-2.1zM483.00 510.0h2.1v13.7h-2.1zM489.00 507.6h2.1v13.7h-2.1zM495.00 514.6h2.1v13.7h-2.1zM502.00 499.3h2.1v13.7h-2.1zM508.00 502.1h2.1v13.7h-2.1zM514.00 508.8h2.1v13.7h-2.1zM520.00 505.1h2.1v13.7h-2.1zM526.00 503.5h2.1v13.7h-2.1zM533.00 503.1h2.1v13.7h-2.1zM539.00 510.0h2.1v13.7h-2.1zM545.00 520.0h2.1v13.7h-2.1zM551.00 517.9h2.1v13.7h-2.1zM557.00 511.5h2.1v13.7h-2.1zM564.00 515.0h2.1v13.7h-2.1zM570.00 518.3h2.1v13.7h-2.1zM576.00 523.1h2.1v13.7h-2.1zM582.00 520.2h2.1v13.7h-2.1zM588.00 519.8h2.1v13.7h-2.1zM595.00 515.2h2.1v13.7h-2.1zM601.00 534.8h2.1v13.7h-2.1zM607.00 521.2h2.1v13.7h-2.1zM613.00 516.7h2.1v13.7h-2.1zM619.00 526.5h2.1v13.7h-2.1zM626.00 534.4h2.1v13.7h-2.1zM632.00 522.6h2.1v13.7h-2.1zM638.00 528.1h2.1v13.7h-2.1zM644.00 528.7h2.1v13.7h-2.1zM650.00 540.6h2.1v13.7h-2.1zM657.00 534.2h2.1v13.7h-2.1zM663.00 535.1h2.1v13.7h-2.1zM669.00 531.6h2.1v13.7h-2.1zM675.00 531.7h2.1v13.7h-2.1zM681.00 524.9h2.1v13.7h-2.1zM687.00 525.3h2.1v13.7h-2.1zM694.00 529.6h2.1v13.7h-2.1zM700.00 530.4h2.1v13.7h-2.1zM706.00 532.5h2.1v13.7h-2.1zM712.00 539.2h2.1v13.7h-2.1zM718.00 527.6h2.1v13.7h-2.1zM725.00 533.7h2.1v13.7h-2.1zM731.00 538.6h2.1v13.7h-2.1zM737.00 527.5h2.1v13.7h-2.1zM743.00 528.1h2.1v13.7h-2.1zM749.00 520.0h2.1v13.7h-2.1zM756.00 530.6h2.1v13.7h-2.1zM762.00 533.3h2.1v13.7h-2.1zM768.00 528.0h2.1v13.7h-2.1zM774.00 541.3h2.1v13.7h-2.1zM780.00 534.8h2.1v13.7h-2.1zM787.00 537.6h2.1v13.7h-2.1zM793.00 545.6h2.1v13.7h-2.1zM799.00 546.6h2.1v13.7h-2.1zM805.00 544.8h2.1v13.7h-2.1zM811.00 555.6h2.1v13.7h-2.1zM818.00 552.3h2.1v13.7h-2.1zM824.00 555.4h2.1v13.7h-2.1zM830.00 553.0h2.1v13.7h-2.1zM836.00 568.9h2.1v13.7h-2.1zM842.00 554.4h2.1v13.7h-2.1zM849.00 565.0h2.1v13.7h-2.1zM855.00 567.6h2.1v13.7h-2.1zM861.00 566.8h2.1v13.7h-2.1zM867.00 571.7h2.1v13.7h-2.1zM873.00 571.2h2.1v13.7h-2.1zM880.00 564.6h2.1v13.7h-2.1zM886.00 571.6h2.1v13.7h-2.1zM892.00 582.2h2.1v13.7h-2.1zM898.00 577.7h2.1v13.7h-2.1zM904.00 577.0h2.1v13.7h-2.1zM911.00 585.8h2.1v13.7h-2.1zM917.00 580.9h2.1v13.7h-2.1zM923.00 585.8h2.1v13.7h-2.1zM929.00 589.6h2.1v13.7h-2.1zM935.00 598.7h2.1v13.7h-2.1zM942.00 605.9h2.1v13.7h-2.1zM948.00 607.2h2.1v13.7h-2.1zM954.00 617.5h2.1v13.7h-2.1zM960.00 617.6h2.1v13.7h-2.1zM966.00 632.4h2.1v13.7h-2.1zM973.00 638.0h2.1v13.7h-2.1zM979.00 653.0h2.1v13.7h-2.1zM985.00 679.2h2.1v13.7h-2.1zM991.00 698.8h2.1v13.7h-2.1zM997.00 728.2h2.1v13.7h-2.1zM1004.00 759.6h2.1v13.7h-2.1zM1010.00 788.5h2.1v13.7h-2.1zM1016.00 841.7h2.1v13.7h-2.1zM1022.00 877.4h2.1v13.7h-2.1zM1028.00 878.8h2.1v13.7h-2.1zM1035.00 850.5h2.1v13.7h-2.1zM1041.00 827.0h2.1v13.7h-2.1zM1047.00 793.0h2.1v13.7h-2.1zM1053.00 778.9h2.1v13.7h-2.1zM1059.00 780.4h2.1v13.7h-2.1zM1065.00 789.0h2.1v13.7h-2.1zM1072.00 771.4h2.1v13.7h-2.1zM1078.00 757.9h2.1v13.7h-2.1zM1084.00 743.0h2.1v13.7h-2.1zM1090.00 727.2h2.1v13.7h-2.1zM1096.00 726.0h2.1v13.7h-2.1zM1103.00 716.2h2.1v13.7h-2.1zM1109.00 728.4h2.1v13.7h-2.1zM1115.00 742.7h2.1v13.7h-2.1zM1121.00 757.9h2.1v13.7h-2.1zM1127.00 772.4h2.1v13.7h-2.1zM1134.00 804.5h2.1v13.7h-2.1zM1140.00 818.1h2.1v13.7h-2.1zM1146.00 832.1h2.1v13.7h-2.1zM1152.00 836.9h2.1v13.7h-2.1zM1158.00 857.7h2.1v13.7h-2.1zM1165.00 868.5h2.1v13.7h-2.1zM1171.00 875.4h2.1v13.7h-2.1zM1177.00 891.8h2.1v13.7h-2.1zM1183.00 869.3h2.1v13.7h-2.1zM1189.00 832.4h2.1v13.7h-2.1zM1196.00 787.3h2.1v13.7h-2.1zM1202.00 747.8h2.1v13.7h-2.1zM1208.00 721.7h2.1v13.7h-2.1zM1214.00 704.1h2.1v13.7h-2.1zM1220.00 686.9h2.1v13.7h-2.1zM1227.00 672.2h2.1v13.7h-2.1zM1233.00 654.9h2.1v13.7h-2.1zM1239.00 641.1h2.1v13.7h-2.1zM1245.00 639.8h2.1v13.7h-2.1zM1251.00 639.7h2.1v13.7h-2.1zM1258.00 634.2h2.1v13.7h-2.1zM1264.00 625.8h2.1v13.7h-2.1zM1270.00 617.6h2.1v13.7h-2.1zM1276.00 605.7h2.1v13.7h-2.1zM1282.00 599.0h2.1v13.7h-2.1zM1289.00 588.4h2.1v13.7h-2.1zM1295.00 579.9h2.1v13.7h-2.1zM1301.00 573.8h2.1v13.7h-2.1zM1307.00 571.2h2.1v13.7h-2.1zM1313.00 571.3h2.1v13.7h-2.1zM1320.00 561.4h2.1v13.7h-2.1zM1326.00 554.5h2.1v13.7h-2.1zM1332.00 559.1h2.1v13.7h-2.1zM1338.00 550.0h2.1v13.7h-2.1zM1344.00 556.1h2.1v13.7h-2.1zM1351.00 550.5h2.1v13.7h-2.1zM1357.00 557.3h2.1v13.7h-2.1zM1363.00 547.7h2.1v13.7h-2.1zM1369.00 535.2h2.1v13.7h-2.1zM1375.00 547.6h2.1v13.7h-2.1zM1382.00 530.4h2.1v13.7h-2.1zM1388.00 547.8h2.1v13.7h-2.1zM1394.00 534.9h2.1v13.7h-2.1zM1400.00 539.6h2.1v13.7h-2.1zM1406.00 532.1h2.1v13.7h-2.1zM1413.00 527.5h2.1v13.7h-2.1zM1419.00 525.2h2.1v13.7h-2.1zM1425.00 527.0h2.1v13.7h-2.1zM1431.00 524.2h2.1v13.7h-2.1zM1437.00 525.0h2.1v13.7h-2.1zM1444.00 531.6h2.1v13.7h-2.1zM1450.00 537.6h2.1v13.7h-2.1zM1456.00 526.3h2.1v13.7h-2.1zM1462.00 528.5h2.1v13.7h-2.1zM1468.00 527.2h2.1v13.7h-2.1zM1474.00 518.9h2.1v13.7h-2.1zM1481.00 526.8h2.1v13.7h-2.1zM1487.00 517.4h2.1v13.7h-2.1zM1493.00 522.5h2.1v13.7h-2.1zM1499.00 527.9h2.1v13.7h-2.1zM1505.00 526.0h2.1v13.7h-2.1zM1512.00 523.4h2.1v13.7h-2.1zM1518.00 527.7h2.1v13.7h-2.1zM1524.00 527.1h2.1v13.7h-2.1zM1530.00 514.1h2.1v13.7h-2.1zM1536.00 513.6h2.1v13.7h-2.1zM1543.00 518.9h2.1v13.7h-2.1zM1549.00 517.7h2.1v13.7h-2.1zM1555.00 518.4h2.1v13.7h-2.1zM1561.00 533.5h2.1v13.7h-2.1zM1567.00 524.2h2.1v13.7h-2.1zM1574.00 521.9h2.1v13.7h-2.1zM1580.00 509.6h2.1v13.7h-2.1zM1586.00 522.0h2.1v13.7h-2.1zM1592.00 517.8h2.1v13.7h-2.1zM1598.00 521.4h2.1v13.7h-2.1zM1605.00 513.7h2.1v13.7h-2.1zM1611.00 516.9h2.1v13.7h-2.1zM1617.00 511.7h2.1v13.7h-2.1zM1623.00 508.4h2.1v13.7h-2.1zM1629.00 505.6h2.1v13.7h-2.1zM1636.00 520.2h2.1v13.7h-2.1zM1642.00 507.4h2.1v13.7h-2.1zM1648.00 504.5h2.1v13.7h-2.1zM1654.00 515.0h2.1v13.7h-2.1zM1660.00 509.9h2.1v13.7h-2.1zM1667.00 512.3h2.1v13.7h-2.1zM1673.00 504.2h2.1v13.7h-2.1zM1679.00 511.2h2.1v13.7h-2.1zM1685.00 501.1h2.1v13.7h-2.1zM1691.00 500.1h2.1v13.7h-2.1zM1698.00 502.3h2.1v13.7h-2.1zM1704.00 503.5h2.1v13.7h-2.1zM1710.00 509.5h2.1v13.7h-2.1zM1716.00 505.9h2.1v13.7h-2.1zM1722.00 508.6h2.1v13.7h-2.1zM1729.00 503.0h2.1v13.7h-2.1zM1735.00 521.6h2.1v13.7h-2.1zM1741.00 521.0h2.1v13.7h-2.1zM1747.00 509.0h2.1v13.7h-2.1zM1753.00 511.1h2.1v13.7h-2.1zM1760.00 513.9h2.1v13.7h-2.1zM1766.00 515.4h2.1v13.7h-2.1zM1772.00 513.9h2.1v13.7h-2.1zM1778.00 514.7h2.1v13.7h-2.1zM1784.00 509.2h2.1v13.7h-2.1zM1791.00 502.8h2.1v13.7h-2.1zM1797.00 503.2h2.1v13.7h-2.1zM1803.00 499.3h2.1v13.7h-2.1zM1809.00 521.2h2.1v13.7h-2.1zM1815.00 502.2h2.1v13.7h-2.1zM1822.00 517.2h2.1v13.7h-2.1zM1828.00 518.6h2.1v13.7h-2.1zM1834.00 514.2h2.1v13.7h-2.1zM1840.00 513.8h2.1v13.7h-2.1zM1846.00 512.2h2.1v13.7h-2.1zM1852.00 516.5h2.1v13.7h-2.1zM1859.00 514.4h2.1v13.7h-2.1zM1865.00 515.7h2.1v13.7h-2.1zM1871.00 510.5h2.1v13.7h-2.1zM1877.00 508.4h2.1v13.7h-2.1zM1883.00 509.7h2.1v13.7h-2.1zM1890.00 505.9h2.1v13.7h-2.1zM1896.00 497.9h2.1v13.7h-2.1zM1902.00 504.0h2.1v13.7h-2.1zM1908.00 499.7h2.1v13.7h-2.1zM1914.00 502.7h2.1v13.7h-2.1zM1921.00 512.3h2.1v13.7h-2.1zM1927.00 511.5h2.1v13.7h-2.1zM1933.00 520.8h2.1v13.7h-2.1zM1939.00 518.8h2.1v13.7h-2.1zM1945.00 506.2h2.1v13.7h-2.1zM1952.00 509.3h2.1v13.7h-2.1zM1958.00 514.1h2.1v13.7h-2.1zM1964.00 515.5h2.1v13.7h-2.1zM1970.00 512.6h2.1v13.7h-2.1zM1976.00 513.2h2.1v13.7h-2.1zM1983.00 517.5h2.1v13.7h-2.1zM1989.00 516.5h2.1v13.7h-2.1zM1995.00 512.7h2.1v13.7h-2.1zM2001.00 510.3h2.1v13.7h-2.1zM2007.00 504.4h2.1v13.7h-2.1zM2014.00 496.5h2.1v13.7h-2.1zM2020.00 508.3h2.1v13.7h-2.1z" fill="#5c5c5c"/><path d="M22.5 24H2106M23.3 23.5V978.5M22.5 977.6H2106" stroke="#d2d2d2" stroke-width="1.6" fill="none"/><path d="M211.6 22V55.6M211.6 945.8V979.5M305.2 22V55.6M305.2 945.8V979.5M398.8 22V55.6M398.8 945.8V979.5M492.5 22V55.6M492.5 945.8V979.5M586.1 22V55.6M586.1 945.8V979.5M679.8 22V55.6M679.8 945.8V979.5M773.4 22V55.6M773.4 945.8V979.5M867.1 22V55.6M867.1 945.8V979.5M960.7 22V55.6M960.7 945.8V979.5M1054.4 22V55.6M1054.4 945.8V979.5M1148.0 22V55.6M1148.0 945.8V979.5M1241.6 22V55.6M1241.6 945.8V979.5M1335.3 22V55.6M1335.3 945.8V979.5M1428.9 22V55.6M1428.9 945.8V979.5M1522.6 22V55.6M1522.6 945.8V979.5M1616.2 22V55.6M1616.2 945.8V979.5M1709.9 22V55.6M1709.9 945.8V979.5M1803.5 22V55.6M1803.5 945.8V979.5M1897.2 22V55.6M1897.2 945.8V979.5M22 215.2H54.8M2072.4 215.2H2106.5M22 517.5H54.8M2072.4 517.5H2106.5M22 647.5H54.8M2072.4 647.5H2106.5M22 797.6H54.8M2072.4 797.6H2106.5" stroke="#1d1a19" stroke-width="4.6" fill="none"/><rect x="19.45" y="20.45" width="2088.8" height="960.7" fill="none" stroke="#1d1a19" stroke-width="4.9"/><text x="163.6" y="226.9" font-size="59.3" font-family="Liberation Sans, Arial, Helvetica, sans-serif">293 K</text><text x="164.6" y="614.7" font-size="58.8" font-family="Liberation Sans, Arial, Helvetica, sans-serif">4.6 K</text><text transform="translate(300.4 1055.5) scale(1 1.06)" x="0" y="0" font-size="74" font-weight="bold" text-anchor="middle" font-family="Liberation Sans, Arial, Helvetica, sans-serif">-8</text><text transform="translate(488.1 1055.5) scale(1 1.06)" x="0" y="0" font-size="74" font-weight="bold" text-anchor="middle" font-family="Liberation Sans, Arial, Helvetica, sans-serif">-6</text><text transform="translate(677.4 1055.5) scale(1 1.06)" x="0" y="0" font-size="74" font-weight="bold" text-anchor="middle" font-family="Liberation Sans, Arial, Helvetica, sans-serif">-4</text><text transform="translate(862.3 1055.5) scale(1 1.06)" x="0" y="0" font-size="74" font-weight="bold" text-anchor="middle" font-family="Liberation Sans, Arial, Helvetica, sans-serif">-2</text><text transform="translate(1053.3 1055.5) scale(1 1.06)" x="0" y="0" font-size="74" font-weight="bold" text-anchor="middle" font-family="Liberation Sans, Arial, Helvetica, sans-serif">0</text><text transform="translate(1238.0 1055.5) scale(1 1.06)" x="0" y="0" font-size="74" font-weight="bold" text-anchor="middle" font-family="Liberation Sans, Arial, Helvetica, sans-serif">2</text><text transform="translate(1427.1 1055.5) scale(1 1.06)" x="0" y="0" font-size="74" font-weight="bold" text-anchor="middle" font-family="Liberation Sans, Arial, Helvetica, sans-serif">4</text><text transform="translate(1616.0 1055.5) scale(1 1.06)" x="0" y="0" font-size="74" font-weight="bold" text-anchor="middle" font-family="Liberation Sans, Arial, Helvetica, sans-serif">6</text><text transform="translate(1804.3 1055.5) scale(1 1.06)" x="0" y="0" font-size="74" font-weight="bold" text-anchor="middle" font-family="Liberation Sans, Arial, Helvetica, sans-serif">8</text><text transform="translate(1090.1 1157.8) scale(1 1.04)" x="0" y="0" font-size="77.5" font-weight="bold" text-anchor="middle" font-family="Liberation Sans, Arial, Helvetica, sans-serif">Velocity (mm/s)</text></svg></body></html>
